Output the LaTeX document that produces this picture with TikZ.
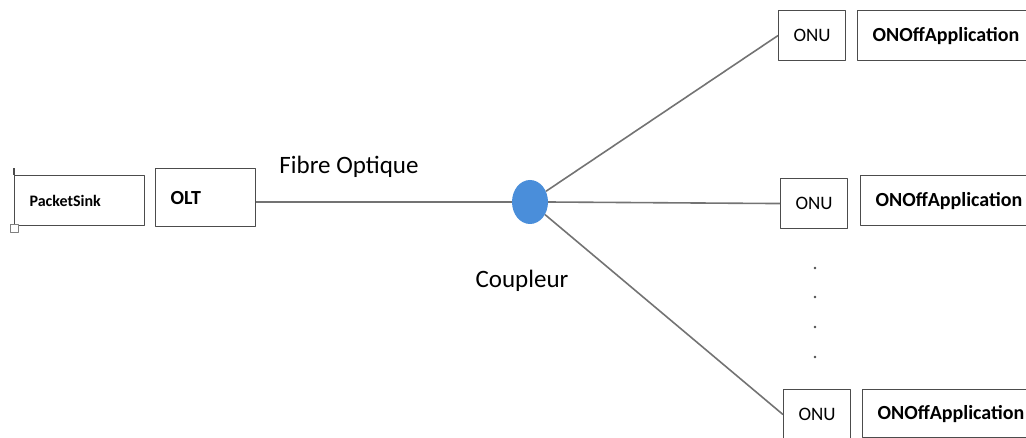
\documentclass[tikz,border=0pt]{standalone}
\usepackage{fontspec}
\setmainfont{Carlito}
\usetikzlibrary{calc,shapes.geometric}
\begin{document}
\begin{tikzpicture}[x=1pt, y=-1pt, line join=round,
  box/.style={draw=black!70, line width=1.1pt, rectangle, inner xsep=15pt, inner ysep=0pt, minimum height=50, anchor=north west, font=\fontsize{20}{22}\selectfont\bfseries},
  onubox/.style={draw=black!70, line width=1.1pt, rectangle, inner sep=0pt, minimum width=67, minimum height=50, anchor=north west, font=\fontsize{19}{21}\selectfont},
  fibre/.style={draw=black!55, line width=1.6pt},
  lbl/.style={font=\fontsize{25}{28}\selectfont, anchor=base}]
\useasboundingbox (0,0) rectangle (1026,438);
% OLT side
\node[box, text width=100, align=left, font=\fontsize{16}{18}\selectfont\bfseries] (sink) at (14,175) {PacketSink};
\node[box, text width=70, align=left, minimum height=58] (olt) at (155,168) {OLT};
\draw[black!70, line width=1.1pt] (sink.north west) -- ++(0,-7);
\draw[black!50, fill=white] ($(sink.south west)+(-4,-2)$) rectangle ++(8,8);
% coupler
\node[ellipse, fill={rgb,255:red,74;green,142;blue,218}, minimum width=36, minimum height=44, inner sep=0pt] (coupl) at (530,202) {};
\node[lbl] (fo) at (349,174) {Fibre Optique};
\node[lbl] (cp) at (522,288) {Coupleur};
% ONU side
\node[onubox] (onu1) at (778,10) {ONU};
\node[box, text width=150, align=left] (app1) at (857,10) {ONOffApplication};
\node[onubox] (onu2) at (780,178) {ONU};
\node[box, text width=150, align=left] (app2) at (860,175) {ONOffApplication};
\node[onubox] (onu3) at (783,389) {ONU};
\node[box, text width=150, align=left, minimum height=48] (app3) at (862,389) {ONOffApplication};
% fibres
\draw[fibre] (olt.east |- coupl.west) -- (coupl.west);
\draw[fibre] (coupl) -- (onu1.west);
\draw[fibre] (coupl.east) -- (onu2.west);
\draw[fibre] (coupl) -- (onu3.west);
\foreach \y in {268,297,327,357}
  \fill[black!70] (815,\y) circle (1.3);
\end{tikzpicture}
\end{document}
